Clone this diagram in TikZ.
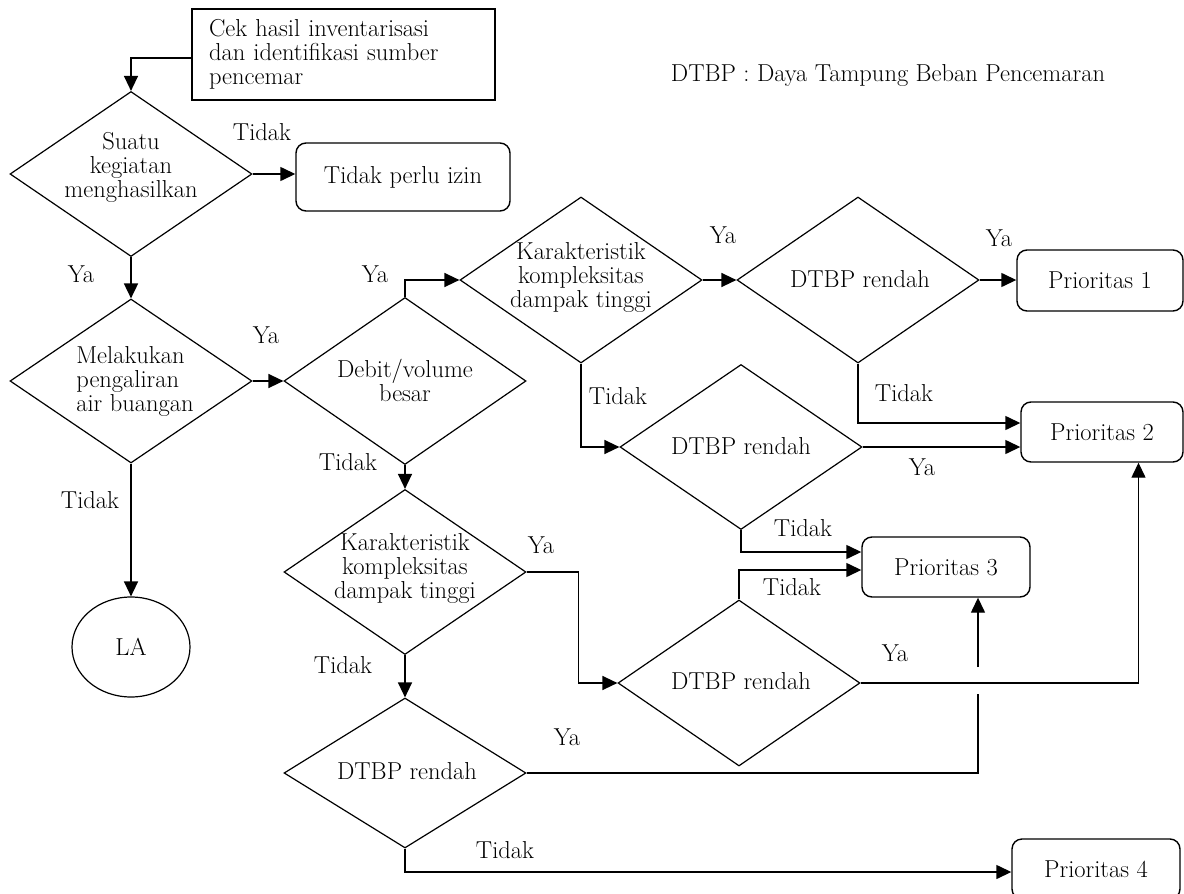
\documentclass[tikz,border=0pt]{standalone}
\usepackage{fontspec}
\usetikzlibrary{shapes.geometric,arrows.meta}
\begin{document}
\begin{tikzpicture}[x=1pt,y=-1pt,
  every node/.style={font=\fontsize{24.5}{24}\selectfont},
  dia/.style={diamond,draw,line width=1.2pt,inner sep=0pt,minimum width=242pt,minimum height=#1},
  dia/.default=166pt,
  box/.style={rectangle,draw,line width=1.4pt,rounded corners=10pt,minimum height=60pt},
  lbl/.style={inner sep=0pt},
  txt/.style={inner sep=0pt,align=center},
  arr/.style={line width=1.4pt,-{Triangle[length=15pt,width=14pt]}},
  ln/.style={line width=1.4pt}]
\useasboundingbox (0,0) rectangle (1184,894);
\fill[white] (0,0) rectangle (1184,894);

% start box
\node[draw,line width=1.4pt,minimum width=303pt,minimum height=91pt,inner xsep=17pt,inner ysep=0pt,text width=269pt,align=left] (cek) at (343.5,54.5) {Cek hasil inventarisasi\\dan identifikasi sumber\\pencemar};

% diamonds
\node[dia=165pt] (d1) at (131,174) {};
\node[dia=164pt] (d2) at (131,381) {};
\node[dia=167pt] (d3) at (405,381) {};
\node[dia] (d4) at (581,280) {};
\node[dia] (d5) at (858,280) {};
\node[dia=165pt] (d6) at (741,447) {};
\node[dia] (d7) at (739,683) {};
\node[dia=165pt] (d8) at (405,572) {};
\node[dia=150pt] (d9) at (405,773) {};

% diamond texts
\node[txt] (t1) at (131,167) {Suatu\\kegiatan\\menghasilkan};
\node[txt,align=left] (t2) at (135,381) {Melakukan\\pengaliran\\air buangan};
\node[txt] (t3) at (405,380) {Debit/volume\\besar};
\node[txt] (t4) at (581,277) {Karakteristik\\kompleksitas\\dampak tinggi};
\node[txt] (t5) at (860,279) {DTBP rendah};
\node[txt] (t6) at (741,446) {DTBP rendah};
\node[txt] (t7) at (741,681) {DTBP rendah};
\node[txt] (t8) at (405,568) {Karakteristik\\kompleksitas\\dampak tinggi};
\node[txt] (t9) at (407,771) {DTBP rendah};

% terminal boxes
\node[box,minimum width=214pt,minimum height=68pt] (izin) at (403,177) {Tidak perlu izin};
\node[box,minimum width=166pt,minimum height=61pt] (p1) at (1100,280.5) {Prioritas 1};
\node[box,minimum width=162pt] (p2) at (1102,432) {Prioritas 2};
\node[box,minimum width=168pt] (p3) at (946,567) {Prioritas 3};
\node[box,minimum width=168pt] (p4) at (1096,869) {Prioritas 4};
\node[ellipse,draw,line width=1.2pt,minimum width=118pt,minimum height=100pt] (la) at (131,647) {LA};

% legend
\node[lbl] (leg) at (888,75) {DTBP : Daya Tampung Beban Pencemaran};

% junction coordinates
\coordinate (j1) at (978,694);
\coordinate (j2) at (978,667);

% connectors
\draw[arr] ([yshift=-3.5pt]cek.west) -| (d1.north);
\draw[arr] (d1.east) -- (d1.east -| izin.west);
\draw[arr,line width=1.8pt] (d1.south) -- (d2.north);
\draw[arr] (d2.east) -- (d3.west);
\draw[arr] (d2.south) -- (la.north);
\draw[arr] (d3.north) |- (d4.west);
\draw[arr] (d4.east) -- (d5.west);
\draw[arr] (d5.east) -- (d5.east -| p1.west);
\draw[arr] (d5.south) |- ([yshift=9pt]p2.west);
\draw[arr] (d4.south) |- (d6.west);
\draw[arr] (d6.east) -- (d6.east -| p2.west);
\draw[arr] (d6.south) |- ([yshift=15pt]p3.west);
\draw[arr] (d7.north) |- ([yshift=-3pt]p3.west);
\draw[arr] (d7.east) -| ([xshift=36.5pt]p2.south);
\draw[arr] (d8.east) -- ++(52,0) |- (d7.west);
\draw[arr] (d3.south) -- (d8.north);
\draw[arr] (d8.south) -- (d9.north);
\draw[ln] (d9.east) -| (j1);
\draw[arr] (j2) -- ([xshift=32pt]p3.south);
\draw[arr] (d9.south) |- ([yshift=-3pt]p4.west);

% branch labels
\node[lbl] (l1) at (262,132) {Tidak};
\node[lbl] (l2) at (81,274) {Ya};
\node[lbl] (l3) at (266,335) {Ya};
\node[lbl] (l4) at (90,500) {Tidak};
\node[lbl] (l5) at (375,274) {Ya};
\node[lbl] (l6) at (723,235) {Ya};
\node[lbl] (l7) at (999,238) {Ya};
\node[lbl] (l8) at (904,393) {Tidak};
\node[lbl] (l9) at (618,396) {Tidak};
\node[lbl] (l10) at (922,467) {Ya};
\node[lbl] (l11) at (803,528) {Tidak};
\node[lbl] (l12) at (792,587) {Tidak};
\node[lbl] (l13) at (895,653) {Ya};
\node[lbl] (l14) at (541,545) {Ya};
\node[lbl] (l15) at (348,462) {Tidak};
\node[lbl] (l16) at (343,665) {Tidak};
\node[lbl] (l17) at (567,737) {Ya};
\node[lbl] (l18) at (505,850) {Tidak};
\end{tikzpicture}
\end{document}
